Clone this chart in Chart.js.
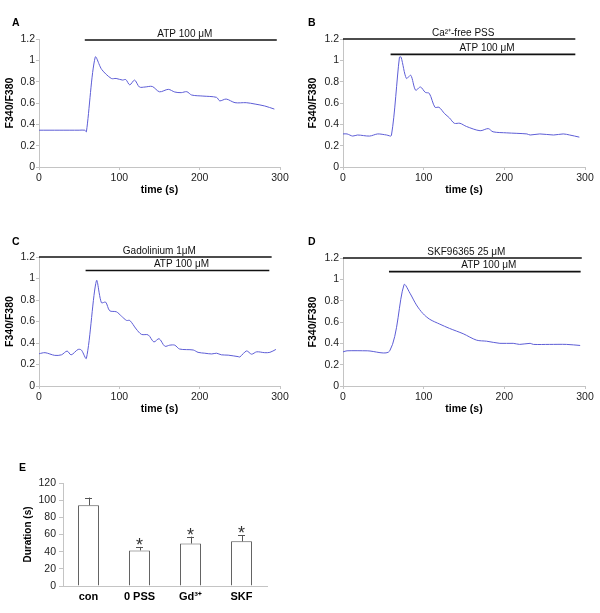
<!DOCTYPE html>
<html>
<head>
<meta charset="utf-8">
<script src="https://cdn.jsdelivr.net/npm/chart.js@4/dist/chart.umd.min.js"></script>
<style>
  html, body { margin:0; padding:0; background:#fff; }
  #page { position:relative; width:600px; height:613px; background:#fff; overflow:hidden; }
  canvas { position:absolute; }
  .lbl { position:absolute; font-family:"Liberation Sans", Arial, sans-serif; font-weight:bold; font-size:10.5px; line-height:10px; color:#000; }
</style>
</head>
<body>
<div id="page">
  <canvas id="cA" width="300" height="200" style="left:0;top:0"></canvas>
  <canvas id="cB" width="300" height="200" style="left:300px;top:0"></canvas>
  <canvas id="cC" width="300" height="219" style="left:0;top:200px"></canvas>
  <canvas id="cD" width="300" height="219" style="left:300px;top:200px"></canvas>
  <canvas id="cE" width="300" height="193" style="left:0;top:420px"></canvas>
  <div class="lbl" style="left:12px;top:17px">A</div>
  <div class="lbl" style="left:308px;top:17px">B</div>
  <div class="lbl" style="left:12px;top:236px">C</div>
  <div class="lbl" style="left:308px;top:236px">D</div>
  <div class="lbl" style="left:19px;top:462px">E</div>
</div>
<script>
// ---------- DATA ----------
// Panel A: control, ATP 100 µM
const timeA  = [0, 25, 50, 57, 59, 70, 78, 90, 96, 104, 108, 113, 119, 125, 132, 141, 150, 161, 169, 177, 184, 190, 204, 221, 225, 233, 244, 258, 269, 281, 293];
const ratioA = [0.345, 0.345, 0.345, 0.345, 0.33, 1.03, 0.915, 0.83, 0.83, 0.815, 0.82, 0.77, 0.815, 0.75, 0.75, 0.755, 0.705, 0.728, 0.703, 0.697, 0.706, 0.675, 0.665, 0.653, 0.62, 0.637, 0.603, 0.603, 0.59, 0.572, 0.543];

// Panel B: Ca2+-free PSS
const timeB  = [0, 5, 12, 18, 33, 43, 54, 60, 70, 72, 78.6, 84, 90, 96, 102, 107, 114, 119, 126, 132, 138, 145, 153, 170, 180, 186, 203, 228, 232, 244, 261, 273, 281, 293];
const ratioB = [0.31, 0.31, 0.29, 0.30, 0.29, 0.31, 0.30, 0.295, 1.03, 1.03, 0.83, 0.86, 0.72, 0.75, 0.70, 0.69, 0.56, 0.56, 0.50, 0.46, 0.41, 0.41, 0.38, 0.34, 0.36, 0.33, 0.32, 0.31, 0.30, 0.31, 0.30, 0.31, 0.30, 0.28];

// Panel C: Gadolinium 1 µM
const timeC  = [0, 7.5, 19.6, 28, 35, 40, 48.6, 52.7, 59, 71.5, 77.7, 83, 88, 96.4, 102.6, 109, 113, 121, 127.6, 136, 143, 149.5, 156.6, 162.8, 169, 175, 192, 198, 206.4, 215, 221, 227, 235.5, 248, 250, 258.4, 264.6, 271, 281, 287.4, 294.9];
const ratioC = [0.30, 0.31, 0.285, 0.29, 0.325, 0.29, 0.34, 0.335, 0.257, 0.98, 0.775, 0.78, 0.70, 0.69, 0.65, 0.61, 0.61, 0.53, 0.48, 0.475, 0.41, 0.44, 0.37, 0.38, 0.38, 0.344, 0.335, 0.313, 0.305, 0.298, 0.305, 0.29, 0.287, 0.273, 0.27, 0.326, 0.296, 0.318, 0.31, 0.313, 0.34];

// Panel D: SKF96365 25 µM
const timeD  = [0, 5, 30, 58, 75.7, 83, 91, 99, 107.6, 120, 132, 149, 165.5, 178, 194.5, 211, 219, 232, 236, 256, 277, 294];
const ratioD = [0.32, 0.33, 0.33, 0.33, 0.95, 0.87, 0.76, 0.68, 0.625, 0.58, 0.54, 0.49, 0.43, 0.42, 0.40, 0.40, 0.39, 0.40, 0.39, 0.39, 0.39, 0.38];

// Application bars: [label, start (s), end (s), level]
const applA = [["ATP 100 \u03bcM", 57, 296, 1.19]];
const applB = [["Ca\u00b2\u207a-free PSS", 0, 288, 1.2], ["ATP 100 \u03bcM", 59, 288, 1.056]];
const applC = [["Gadolinium 1\u03bcM", 0, 289.6, 1.2], ["ATP 100 \u03bcM", 58, 286.7, 1.075]];
const applD = [["SKF96365 25 \u03bcM", 0, 296, 1.2], ["ATP 100 \u03bcM", 57, 294.6, 1.072]];

// Panel E: duration
const groupsE   = ["con", "0 PSS", "Gd\u00b3\u207a", "SKF"];
const durationE = [94, 41.5, 49.5, 52];
const semE      = [9, 4, 8, 7];
const signifE   = [false, true, true, true];

const timeTicks  = [0, 100, 200, 300];

// ---------- STYLE ----------
const FONT = '"Liberation Sans", Arial, sans-serif';
const LINE = '#5d5dd6';
const AXIS = '#c4c4c4';
const TXT  = '#222';

const applPlugin = {
  id: 'appl',
  afterDatasetsDraw(chart, args, opts) {
    const items = opts.items || [];
    const xs = chart.scales.x, ys = chart.scales.y, ctx = chart.ctx;
    ctx.save();
    items.forEach(it => {
      const x1 = xs.getPixelForValue(it[1]), x2 = xs.getPixelForValue(it[2]);
      const y = ys.getPixelForValue(it[3]);
      ctx.strokeStyle = '#111';
      ctx.lineWidth = 1.6;
      ctx.beginPath(); ctx.moveTo(x1, y); ctx.lineTo(x2, y); ctx.stroke();
      ctx.fillStyle = '#111';
      ctx.font = '10px ' + FONT;
      ctx.textAlign = 'center';
      ctx.textBaseline = 'bottom';
      ctx.fillText(it[0], (x1 + x2) / 2 + 4, y - 1);
    });
    ctx.restore();
  }
};

function lineChart(id, t, v, appl, pad, yW) {
  new Chart(document.getElementById(id), {
    type: 'line',
    data: { datasets: [{
      data: t.map((x, i) => ({ x: x, y: v[i] })),
      borderColor: LINE, borderWidth: 1, pointRadius: 0, tension: 0.3, fill: false
    }]},
    options: {
      responsive: false, animation: false, events: [],
      layout: { padding: pad },
      plugins: { legend: { display: false }, tooltip: { enabled: false }, appl: { items: appl } },
      scales: {
        x: {
          type: 'linear', min: 0, max: 300,
          afterBuildTicks(s) { s.ticks = timeTicks.map(x => ({ value: x })); },
          ticks: { font: { family: FONT, size: 10.5 }, color: TXT, padding: 2, maxRotation: 0, autoSkip: false },
          grid: { display: true, drawOnChartArea: false, drawTicks: true, tickLength: 3, color: AXIS },
          border: { display: true, color: AXIS },
          title: { display: true, text: 'time (s)', color: '#000', font: { family: FONT, size: 10.5, weight: 'bold' }, padding: { top: 4, bottom: 4 } },
          afterFit(s) { s.height = 33; }
        },
        y: {
          min: 0, max: 1.2,
          ticks: { stepSize: 0.2, font: { family: FONT, size: 10.5 }, color: TXT, padding: 1,
                   callback: (val) => String(Math.round(val * 10) / 10) },
          grid: { display: true, drawOnChartArea: false, drawTicks: true, tickLength: 3, color: AXIS },
          border: { display: true, color: AXIS },
          title: { display: true, text: 'F340/F380', color: '#000', font: { family: FONT, size: 10.5, weight: 'bold' }, padding: { top: 4, bottom: 4 } },
          afterFit(s) { s.width = yW; }
        }
      }
    },
    plugins: [applPlugin]
  });
}

lineChart('cA', timeA, ratioA, applA, { left: 0, right: 20, top: 39, bottom: 0 }, 39);
lineChart('cB', timeB, ratioB, applB, { left: 3, right: 15, top: 39, bottom: 0 }, 40);
lineChart('cC', timeC, ratioC, applC, { left: 0, right: 20, top: 57, bottom: 0 }, 39);
lineChart('cD', timeD, ratioD, applD, { left: 3, right: 15, top: 58, bottom: 0 }, 40);

const errPlugin = {
  id: 'errbars',
  afterDatasetsDraw(chart) {
    const meta = chart.getDatasetMeta(0), ys = chart.scales.y, ctx = chart.ctx;
    ctx.save();
    meta.data.forEach((bar, i) => {
      const x = bar.x;
      const yb = ys.getPixelForValue(durationE[i]);
      const yt = ys.getPixelForValue(durationE[i] + semE[i]);
      ctx.strokeStyle = '#555'; ctx.lineWidth = 1;
      ctx.beginPath();
      ctx.moveTo(Math.round(x) + 0.5, yb); ctx.lineTo(Math.round(x) + 0.5, yt);
      ctx.moveTo(x - 3.5, Math.round(yt) + 0.5); ctx.lineTo(x + 3.5, Math.round(yt) + 0.5);
      ctx.stroke();
      if (signifE[i]) {
        ctx.fillStyle = '#333';
        ctx.font = '18px ' + FONT;
        ctx.textAlign = 'center';
        ctx.textBaseline = 'alphabetic';
        ctx.fillText('*', x, yt + 4);
      }
    });
    ctx.restore();
  }
};

new Chart(document.getElementById('cE'), {
  type: 'bar',
  data: { labels: groupsE, datasets: [{
    data: durationE, backgroundColor: '#fff', borderColor: '#555', borderWidth: 1,
    barPercentage: 0.41, categoryPercentage: 1
  }]},
  options: {
    responsive: false, animation: false, events: [],
    layout: { padding: { left: 18, right: 33, top: 63, bottom: 0 } },
    plugins: { legend: { display: false }, tooltip: { enabled: false } },
    scales: {
      x: {
        ticks: { font: { family: FONT, size: 11, weight: 'bold' }, color: '#000', padding: 4 },
        grid: { display: false, drawTicks: false },
        border: { display: true, color: AXIS },
        afterFit(s) { s.height = 27; }
      },
      y: {
        min: 0, max: 120,
        ticks: { stepSize: 20, font: { family: FONT, size: 10.5 }, color: TXT, padding: 3 },
        grid: { display: true, drawOnChartArea: false, drawTicks: true, tickLength: 4, color: AXIS },
        border: { display: true, color: AXIS },
        title: { display: true, text: 'Duration (s)', color: '#000', font: { family: FONT, size: 10, weight: 'bold' }, padding: { top: 4, bottom: 4 } },
        afterFit(s) { s.width = 45; }
      }
    }
  },
  plugins: [errPlugin]
});
</script>
</body>
</html>
